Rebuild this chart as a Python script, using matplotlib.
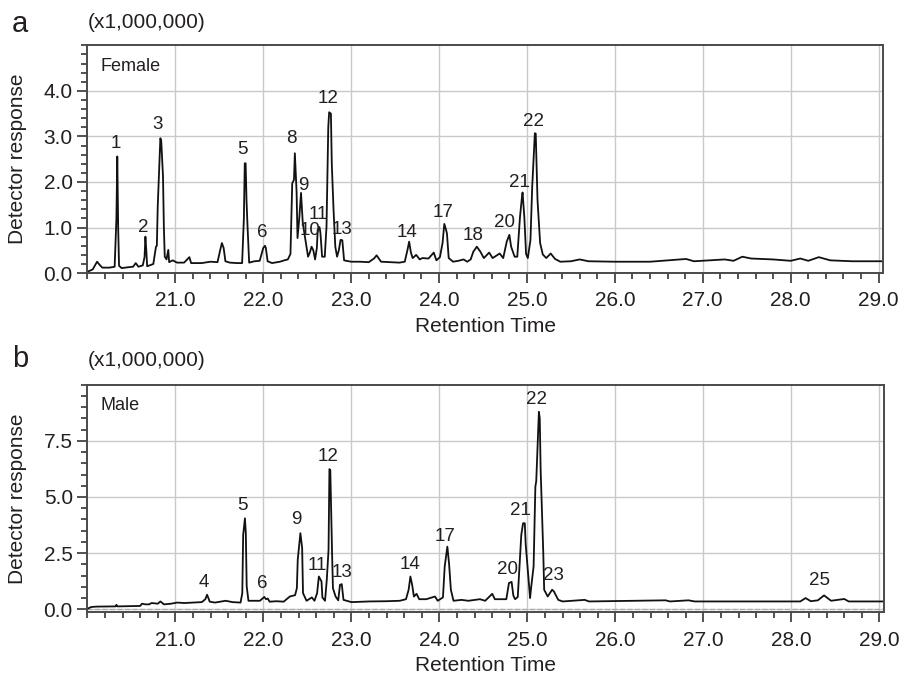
import matplotlib
matplotlib.use("Agg")
import matplotlib.pyplot as plt
from matplotlib.ticker import MultipleLocator, FormatStrFormatter

plt.rcParams['font.family'] = ['Liberation Sans', 'DejaVu Sans']

# ---- Female chromatogram (retention time, response x1e6) ----
female_rt = [20.00, 20.06, 20.11, 20.14, 20.17, 20.25, 20.31, 20.33, 20.34, 20.35,
             20.36, 20.39, 20.47, 20.52, 20.55, 20.58, 20.63, 20.65, 20.66, 20.67,
             20.68, 20.72, 20.75, 20.77, 20.78, 20.79, 20.80, 20.82, 20.83, 20.84,
             20.86, 20.87, 20.88, 20.90, 20.92, 20.93, 20.97, 21.02, 21.10, 21.16,
             21.18, 21.30, 21.40, 21.48, 21.51, 21.53, 21.55, 21.57, 21.62, 21.70,
             21.76, 21.78, 21.79, 21.80, 21.81, 21.82, 21.84, 21.90, 21.96, 22.00,
             22.02, 22.03, 22.05, 22.10, 22.19, 22.24, 22.28, 22.31, 22.33, 22.35,
             22.36, 22.38, 22.39, 22.41, 22.43, 22.45, 22.48, 22.51, 22.53, 22.55,
             22.57, 22.59, 22.61, 22.62, 22.64, 22.65, 22.67, 22.70, 22.72, 22.74,
             22.75, 22.77, 22.78, 22.80, 22.82, 22.84, 22.86, 22.88, 22.90, 22.92,
             23.00, 23.10, 23.20, 23.26, 23.29, 23.34, 23.45, 23.55, 23.61, 23.64,
             23.66, 23.68, 23.70, 23.74, 23.78, 23.81, 23.88, 23.94, 23.97, 24.01,
             24.04, 24.06, 24.08, 24.09, 24.11, 24.16, 24.22, 24.28, 24.32, 24.36,
             24.39, 24.43, 24.47, 24.51, 24.57, 24.61, 24.69, 24.73, 24.77, 24.80,
             24.82, 24.86, 24.89, 24.92, 24.94, 24.95, 24.97, 24.99, 25.01, 25.04,
             25.06, 25.09, 25.10, 25.12, 25.15, 25.18, 25.22, 25.27, 25.32, 25.38,
             25.50, 25.60, 25.70, 26.00, 26.40, 26.81, 26.90, 27.25, 27.35, 27.45,
             27.55, 27.80, 28.00, 28.11, 28.20, 28.32, 28.45, 28.70, 29.05]
female_resp = [0.03, 0.08, 0.25, 0.18, 0.12, 0.12, 0.14, 1.20, 2.56, 1.00,
               0.16, 0.11, 0.13, 0.14, 0.22, 0.14, 0.17, 0.35, 0.80, 0.50,
               0.15, 0.18, 0.20, 0.45, 0.58, 0.60, 1.46, 2.50, 2.96, 2.90,
               2.12, 1.00, 0.36, 0.30, 0.51, 0.24, 0.28, 0.23, 0.23, 0.35,
               0.22, 0.22, 0.25, 0.24, 0.50, 0.66, 0.55, 0.26, 0.23, 0.22,
               0.22, 1.20, 2.41, 2.41, 1.60, 1.10, 0.23, 0.26, 0.27, 0.55,
               0.60, 0.55, 0.26, 0.22, 0.25, 0.28, 0.30, 0.42, 1.97, 2.05,
               2.63, 1.76, 0.77, 1.20, 1.76, 1.10, 0.73, 0.36, 0.45, 0.58,
               0.50, 0.30, 0.55, 0.95, 1.01, 0.90, 0.36, 0.36, 1.02, 3.20,
               3.53, 3.50, 2.40, 1.39, 0.58, 0.36, 0.50, 0.73, 0.72, 0.28,
               0.25, 0.25, 0.24, 0.32, 0.39, 0.25, 0.24, 0.23, 0.25, 0.50,
               0.69, 0.45, 0.33, 0.40, 0.30, 0.33, 0.32, 0.45, 0.28, 0.35,
               0.66, 1.08, 0.95, 0.87, 0.33, 0.25, 0.27, 0.30, 0.25, 0.30,
               0.47, 0.58, 0.47, 0.33, 0.45, 0.33, 0.43, 0.33, 0.69, 0.84,
               0.58, 0.36, 0.36, 1.21, 1.61, 1.77, 1.24, 0.42, 0.33, 0.73,
               1.90, 3.07, 3.06, 1.61, 0.66, 0.41, 0.33, 0.43, 0.31, 0.25,
               0.26, 0.30, 0.26, 0.25, 0.25, 0.31, 0.26, 0.30, 0.27, 0.36,
               0.32, 0.30, 0.27, 0.32, 0.27, 0.35, 0.28, 0.26, 0.26]

female_peak_ids = ['1', '2', '3', '5', '6', '8', '9', '10', '11', '12', '13',
                   '14', '17', '18', '20', '21', '22']
female_peak_rt = [20.32, 20.63, 20.80, 21.76, 21.99, 22.32, 22.46, 22.53, 22.63,
                  22.74, 22.90, 23.64, 24.05, 24.39, 24.75, 24.91, 25.08]
female_peak_y = [2.84, 1.01, 3.26, 2.71, 0.90, 2.96, 1.92, 0.93, 1.28,
                 3.83, 0.95, 0.90, 1.33, 0.82, 1.10, 1.99, 3.33]

# ---- Male chromatogram ----
male_rt = [20.00, 20.04, 20.10, 20.32, 20.33, 20.34, 20.60, 20.62, 20.66, 20.70,
           20.73, 20.80, 20.83, 20.87, 20.95, 21.02, 21.10, 21.20, 21.30, 21.34,
           21.36, 21.39, 21.45, 21.57, 21.65, 21.74, 21.76, 21.77, 21.79, 21.80,
           21.81, 21.83, 21.96, 22.01, 22.03, 22.05, 22.07, 22.15, 22.23, 22.30,
           22.36, 22.38, 22.39, 22.42, 22.44, 22.45, 22.49, 22.55, 22.58, 22.61,
           22.63, 22.66, 22.67, 22.70, 22.72, 22.74, 22.75, 22.76, 22.78, 22.79,
           22.82, 22.85, 22.87, 22.89, 22.91, 23.00, 23.20, 23.40, 23.55, 23.62,
           23.65, 23.67, 23.69, 23.71, 23.74, 23.77, 23.85, 23.95, 23.98, 24.04,
           24.06, 24.09, 24.11, 24.13, 24.16, 24.25, 24.33, 24.46, 24.52, 24.60,
           24.63, 24.76, 24.79, 24.82, 24.84, 24.86, 24.89, 24.93, 24.95, 24.97,
           24.98, 25.01, 25.03, 25.04, 25.07, 25.09, 25.10, 25.12, 25.13, 25.14,
           25.15, 25.18, 25.19, 25.23, 25.28, 25.30, 25.35, 25.40, 25.65, 25.70,
           26.57, 26.62, 26.83, 26.90, 28.10, 28.16, 28.22, 28.30, 28.37, 28.45,
           28.60, 28.65, 29.05]
male_resp = [0.02, 0.10, 0.12, 0.13, 0.20, 0.13, 0.15, 0.25, 0.22, 0.22,
             0.28, 0.25, 0.35, 0.22, 0.25, 0.30, 0.28, 0.30, 0.32, 0.45,
             0.65, 0.34, 0.30, 0.38, 0.32, 0.30, 0.72, 3.31, 4.05, 3.39,
             1.02, 0.38, 0.38, 0.55, 0.45, 0.48, 0.34, 0.36, 0.34, 0.57,
             0.63, 0.94, 2.20, 3.39, 2.73, 0.72, 0.38, 0.53, 0.38, 0.72,
             1.46, 1.24, 0.53, 0.38, 1.31, 2.65, 6.24, 6.20, 2.52, 0.94,
             0.57, 0.40, 1.09, 1.12, 0.42, 0.32, 0.35, 0.36, 0.38, 0.45,
             0.87, 1.46, 1.09, 0.57, 0.69, 0.45, 0.45, 0.57, 0.38, 0.53,
             1.91, 2.79, 2.00, 0.87, 0.38, 0.42, 0.38, 0.45, 0.38, 0.69,
             0.45, 0.45, 1.17, 1.22, 0.61, 0.45, 0.55, 3.31, 3.83, 3.83,
             2.90, 1.46, 0.50, 0.90, 1.91, 5.46, 5.70, 7.68, 8.79, 8.50,
             6.20, 2.50, 0.87, 0.57, 0.87, 0.80, 0.42, 0.35, 0.42, 0.35,
             0.40, 0.35, 0.40, 0.35, 0.35, 0.50, 0.36, 0.40, 0.62, 0.38,
             0.46, 0.35, 0.35]

male_peak_ids = ['4', '5', '6', '9', '11', '12', '13', '14', '17', '20', '21',
                 '22', '23', '25']
male_peak_rt = [21.32, 21.76, 21.99, 22.37, 22.61, 22.74, 22.89, 23.66, 24.06,
                24.77, 24.92, 25.10, 25.30, 28.32]
male_peak_y = [1.21, 4.61, 1.14, 3.98, 1.95, 6.79, 1.64, 1.98, 3.24,
               1.76, 4.42, 9.35, 1.51, 1.28]

x_ticks = [21.0, 22.0, 23.0, 24.0, 25.0, 26.0, 27.0, 28.0, 29.0]

text_col = '#231f20'
grid_col = '#c9c9c9'

fig = plt.figure(figsize=(9.01, 6.76), dpi=100)
ax_a = fig.add_axes([0.097, 0.596, 0.883, 0.337])
ax_b = fig.add_axes([0.097, 0.094, 0.884, 0.337])


def style_axes(ax, yticks, ymin, ymax, yminor):
    ax.set_xlim(20.0, 29.05)
    ax.set_ylim(ymin, ymax)
    ax.set_xticks(x_ticks)
    ax.xaxis.set_major_formatter(FormatStrFormatter('%.1f'))
    ax.xaxis.set_minor_locator(MultipleLocator(0.2))
    ax.set_yticks(yticks)
    ax.yaxis.set_major_formatter(FormatStrFormatter('%.1f'))
    ax.yaxis.set_minor_locator(MultipleLocator(yminor))
    ax.grid(True, which='major', color=grid_col, lw=1.0)
    ax.set_axisbelow(True)
    for sp in ax.spines.values():
        sp.set_color('#4a4a4a')
        sp.set_linewidth(1.4)
    ax.tick_params(which='both', direction='out', colors='#333333',
                   labelcolor=text_col, labelsize=15, width=1.2)
    ax.tick_params(which='major', length=7)
    ax.tick_params(which='minor', length=4)
    ax.tick_params(axis='x', which='major', pad=6)
    ax.set_xlabel('Retention Time', fontsize=15, color=text_col, labelpad=5)
    ax.set_ylabel('Detector response', fontsize=15, color=text_col, labelpad=12)


style_axes(ax_a, [0, 1, 2, 3, 4], 0.0, 5.0, 0.2)
ax_a.plot(female_rt, female_resp, color='#111111', lw=1.3)
for lab, x, y in zip(female_peak_ids, female_peak_rt, female_peak_y):
    ax_a.text(x, y, lab, ha='center', va='center', fontsize=13.5, color=text_col)
ax_a.text(0.016, 0.909, 'Female', transform=ax_a.transAxes, ha='left',
          va='center', fontsize=13, color=text_col)

style_axes(ax_b, [0, 2.5, 5.0, 7.5], -0.14, 10.0, 0.5)
ax_b.axhline(0, color='#aaaaaa', lw=0.9, ls=(0, (4, 2)), zorder=1)
ax_b.plot(male_rt, male_resp, color='#111111', lw=1.3)
for lab, x, y in zip(male_peak_ids, male_peak_rt, male_peak_y):
    ax_b.text(x, y, lab, ha='center', va='center', fontsize=13.5, color=text_col)
ax_b.text(0.016, 0.908, 'Male', transform=ax_b.transAxes, ha='left',
          va='center', fontsize=13, color=text_col)

# panel letters and scale notes
fig.text(20 / 901, 1 - 24 / 676, 'a', fontsize=21, ha='center', va='center', color=text_col)
fig.text(88 / 901, 1 - 22 / 676, '(x1,000,000)', fontsize=15, ha='left', va='center', color=text_col)
fig.text(20 / 901, 1 - 359 / 676, 'b', fontsize=21, ha='center', va='center', color=text_col)
fig.text(88 / 901, 1 - 360 / 676, '(x1,000,000)', fontsize=15, ha='left', va='center', color=text_col)

fig.savefig('out.png', dpi=100)
